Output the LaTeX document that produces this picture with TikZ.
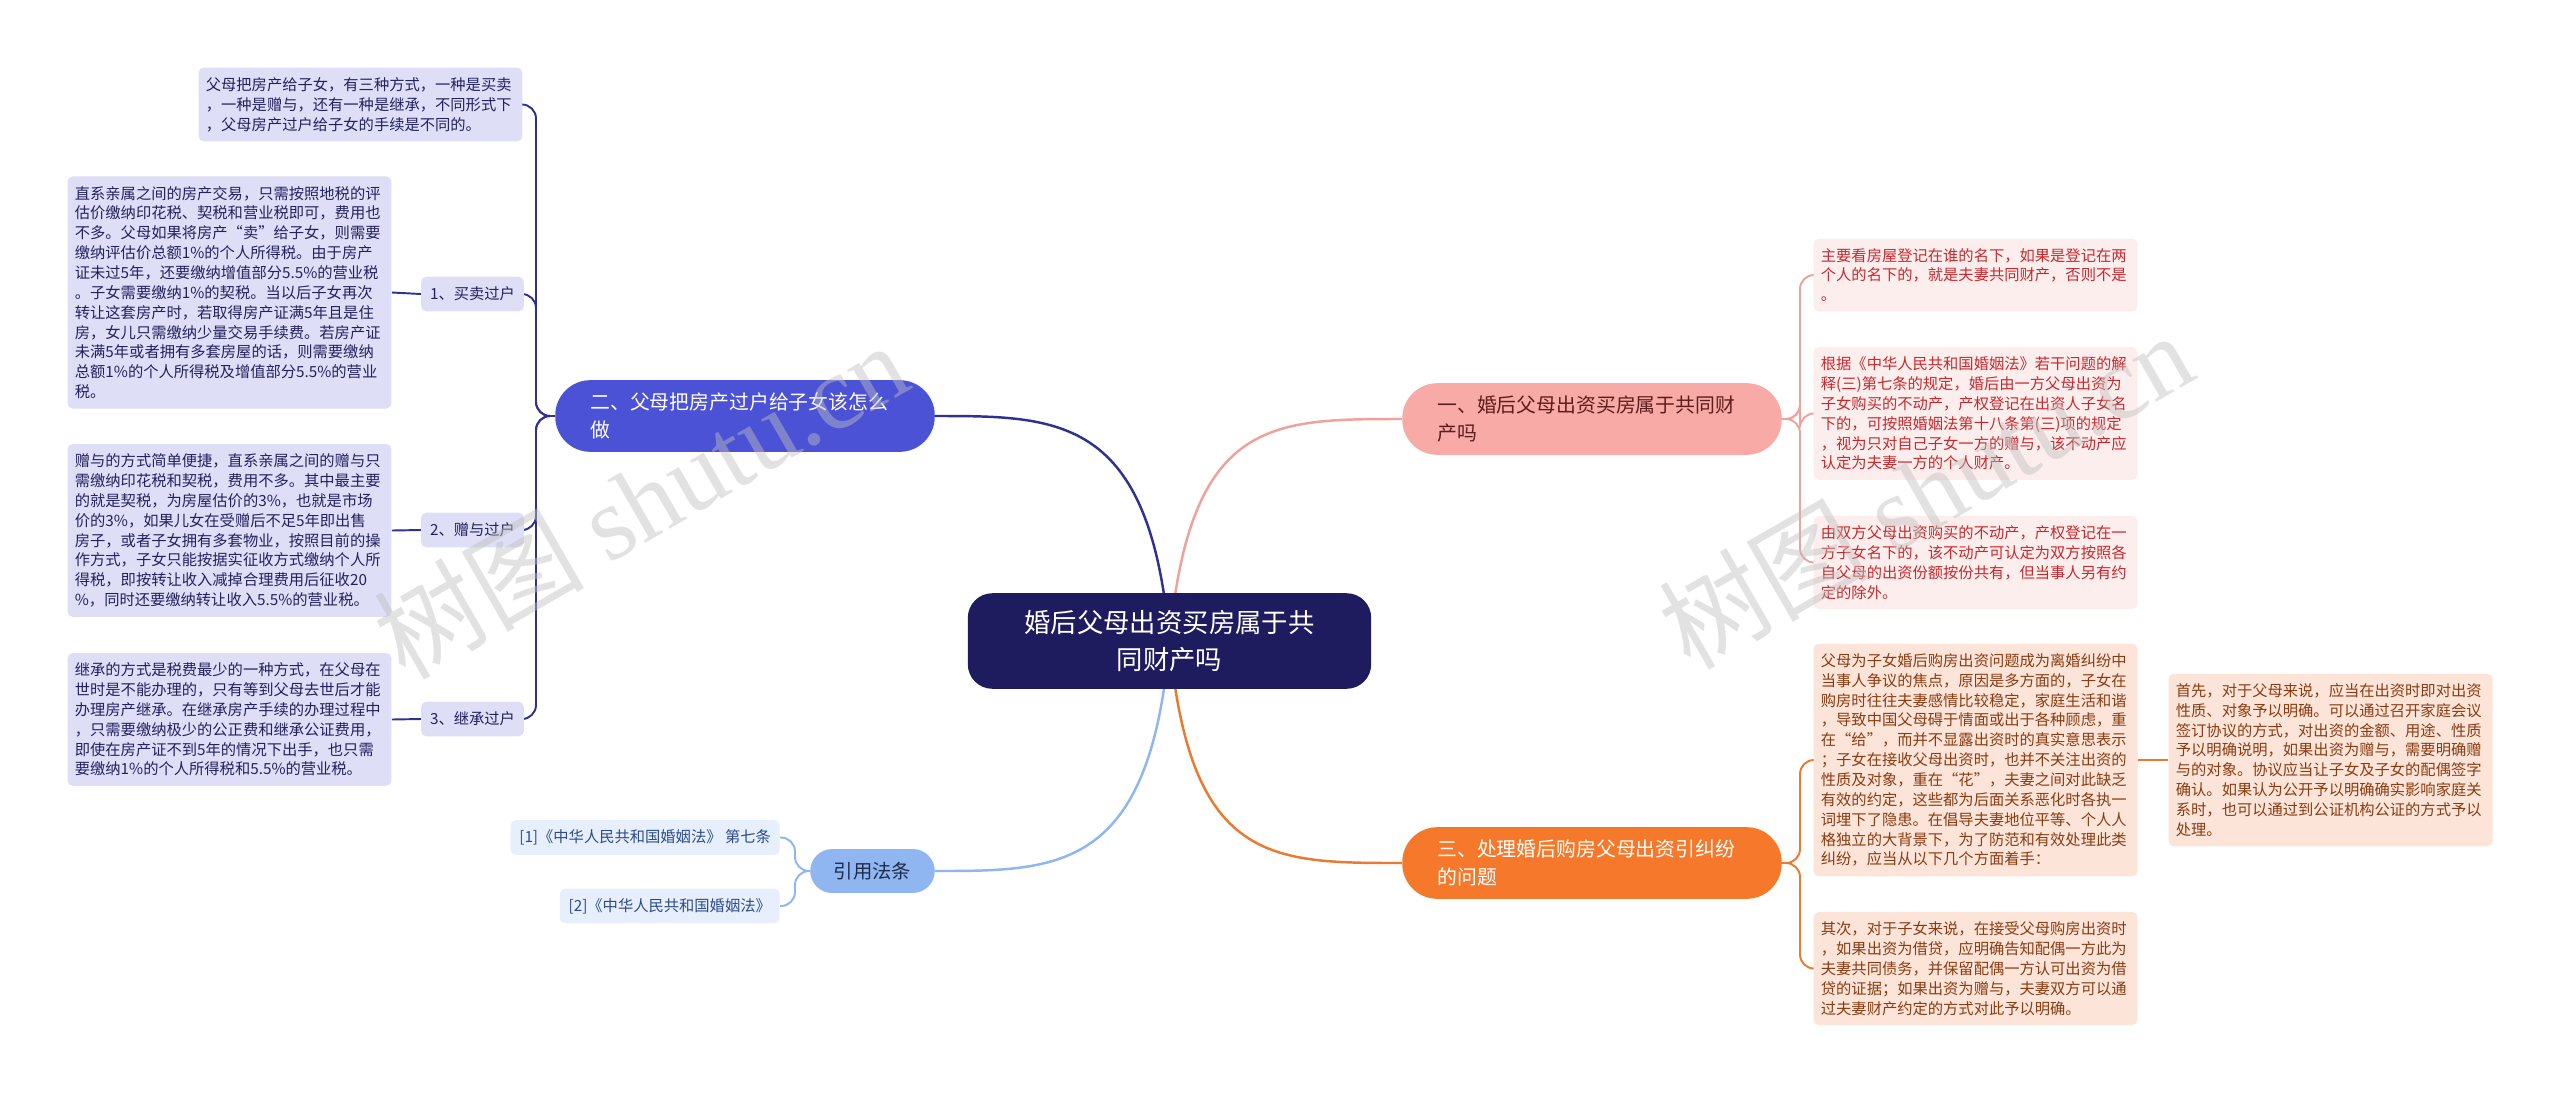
\documentclass[tikz,border=0pt]{standalone}
\usepackage{fontspec}
\setmainfont{Noto Sans CJK SC}
\newfontfamily\wmfont{Liberation Serif}
\usetikzlibrary{backgrounds}
\definecolor{rootc}{HTML}{1E1B5E}
\definecolor{blueA}{HTML}{4B52D6}
\definecolor{lav}{HTML}{DEDFF7}
\definecolor{lavtxt}{HTML}{23215E}
\definecolor{linkL}{HTML}{2F3192}
\definecolor{pinkA}{HTML}{F8AAA6}
\definecolor{pinktxt}{HTML}{5E1D1D}
\definecolor{pinkbg}{HTML}{FDEEEE}
\definecolor{redtxt}{HTML}{C8282C}
\definecolor{linkP}{HTML}{F0A19C}
\definecolor{orA}{HTML}{F6792B}
\definecolor{orbg}{HTML}{FCE5D8}
\definecolor{ortxt}{HTML}{8A3B12}
\definecolor{linkO}{HTML}{E97A2F}
\definecolor{skyA}{HTML}{8FB6F1}
\definecolor{skytxt}{HTML}{1F2B4B}
\definecolor{skybg}{HTML}{E8EFFC}
\definecolor{reftxt}{HTML}{2B4B8C}
\tikzset{
  txt/.style={rounded corners=3pt,inner xsep=4.2pt,inner ysep=5.5pt,text width=176pt,align=left,font=\fontsize{8.7}{11.3}\selectfont},
  lavbox/.style={txt,fill=lav,text=lavtxt},
  pinkbox/.style={txt,fill=pinkbg,text=redtxt},
  orbox/.style={txt,fill=orbg,text=ortxt},
  subbox/.style={fill=lav,text=lavtxt,rounded corners=3pt,minimum width=58.4pt,minimum height=19.8pt,inner sep=2pt,font=\fontsize{8.7}{11.3}\selectfont},
  refbox/.style={fill=skybg,text=reftxt,rounded corners=3pt,minimum height=19.8pt,inner xsep=5pt,inner ysep=2pt,font=\fontsize{8.7}{11}\selectfont},
  pill/.style={rounded corners=20pt,text width=176pt,inner xsep=20pt,inner ysep=4pt,minimum height=40.8pt,align=left,font=\fontsize{11.3}{16}\selectfont},
  rootbox/.style={fill=rootc,text=white,rounded corners=14pt,minimum width=229.6pt,minimum height=54.4pt,align=center,font=\fontsize{15}{21}\selectfont},
  con/.style={line width=1.1pt,rounded corners=8pt},
  trunk/.style={line width=1.4pt},
  wmark/.style={rotate=30,text=gray!50,text opacity=0.45,font=\fontsize{60}{66}\selectfont}
}
\begin{document}
\begin{tikzpicture}[x=0.02cm,y=-0.02cm]
\begin{scope}[on background layer]
\fill[white] (0,0) rectangle (2560,1093);
\end{scope}
\useasboundingbox (0,0) rectangle (2560,1093);
\coordinate (bl) at (536,0);
\coordinate (br) at (1800,0);
\coordinate (bq) at (795,0);

\node[rootbox] (root) at (1169.5,641) {婚后父母出资买房属于共\\同财产吗};
\node[pill,fill=blueA,text=white] (p2) at (745,416) {二、父母把房产过户给子女该怎么\\做};
\node[pill,fill=pinkA,text=pinktxt] (p1) at (1592,419) {一、婚后父母出资买房属于共同财\\产吗};
\node[pill,fill=orA,text=white] (p3) at (1592,863) {三、处理婚后购房父母出资引纠纷\\的问题};
\node[fill=skyA,text=skytxt,rounded corners=12.5pt,minimum width=70.9pt,minimum height=25pt,font=\fontsize{11}{13}\selectfont] (p4) at (872.5,871) {引用法条};

\node[lavbox] (t1) at (360.5,104.5) {父母把房产给子女，有三种方式，一种是买卖\\，一种是赠与，还有一种是继承，不同形式下\\，父母房产过户给子女的手续是不同的。};
\node[subbox] (s1) at (472.5,294) {1、买卖过户};
\node[subbox] (s2) at (472.5,530) {2、赠与过户};
\node[subbox] (s3) at (472.5,719) {3、继承过户};
\node[lavbox] (t2) at (229.5,292.5) {直系亲属之间的房产交易，只需按照地税的评\\估价缴纳印花税、契税和营业税即可，费用也\\不多。父母如果将房产“卖”给子女，则需要\\缴纳评估价总额1\%的个人所得税。由于房产\\证未过5年，还要缴纳增值部分5.5\%的营业税\\。子女需要缴纳1\%的契税。当以后子女再次\\转让这套房产时，若取得房产证满5年且是住\\房，女儿只需缴纳少量交易手续费。若房产证\\未满5年或者拥有多套房屋的话，则需要缴纳\\总额1\%的个人所得税及增值部分5.5\%的营业\\税。};
\node[lavbox] (t3) at (229.5,530.5) {赠与的方式简单便捷，直系亲属之间的赠与只\\需缴纳印花税和契税，费用不多。其中最主要\\的就是契税，为房屋估价的3\%，也就是市场\\价的3\%，如果儿女在受赠后不足5年即出售\\房子，或者子女拥有多套物业，按照目前的操\\作方式，子女只能按据实征收方式缴纳个人所\\得税，即按转让收入减掉合理费用后征收20\\\%，同时还要缴纳转让收入5.5\%的营业税。};
\node[lavbox] (t4) at (229.5,719.5) {继承的方式是税费最少的一种方式，在父母在\\世时是不能办理的，只有等到父母去世后才能\\办理房产继承。在继承房产手续的办理过程中\\，只需要缴纳极少的公正费和继承公证费用，\\即使在房产证不到5年的情况下出手，也只需\\要缴纳1\%的个人所得税和5.5\%的营业税。};

\node[pinkbox] (ta) at (1975.5,275) {主要看房屋登记在谁的名下，如果是登记在两\\个人的名下的，就是夫妻共同财产，否则不是\\。};
\node[pinkbox] (tb) at (1975.5,413.5) {根据《中华人民共和国婚姻法》若干问题的解\\释(三)第七条的规定，婚后由一方父母出资为\\子女购买的不动产，产权登记在出资人子女名\\下的，可按照婚姻法第十八条第(三)项的规定\\，视为只对自己子女一方的赠与，该不动产应\\认定为夫妻一方的个人财产。};
\node[pinkbox] (tc) at (1975.5,562.5) {由双方父母出资购买的不动产，产权登记在一\\方子女名下的，该不动产可认定为双方按照各\\自父母的出资份额按份共有，但当事人另有约\\定的除外。};

\node[orbox] (td) at (1975.5,760) {父母为子女婚后购房出资问题成为离婚纠纷中\\当事人争议的焦点，原因是多方面的，子女在\\购房时往往夫妻感情比较稳定，家庭生活和谐\\，导致中国父母碍于情面或出于各种顾虑，重\\在“给”，而并不显露出资时的真实意思表示\\；子女在接收父母出资时，也并不关注出资的\\性质及对象，重在“花”，夫妻之间对此缺乏\\有效的约定，这些都为后面关系恶化时各执一\\词埋下了隐患。在倡导夫妻地位平等、个人人\\格独立的大背景下，为了防范和有效处理此类\\纠纷，应当从以下几个方面着手：};
\node[orbox] (te) at (1975.5,968.5) {其次，对于子女来说，在接受父母购房出资时\\，如果出资为借贷，应明确告知配偶一方此为\\夫妻共同债务，并保留配偶一方认可出资为借\\贷的证据；如果出资为赠与，夫妻双方可以通\\过夫妻财产约定的方式对此予以明确。};
\node[orbox] (tf) at (2330.5,760) {首先，对于父母来说，应当在出资时即对出资\\性质、对象予以明确。可以通过召开家庭会议\\签订协议的方式，对出资的金额、用途、性质\\予以明确说明，如果出资为赠与，需要明确赠\\与的对象。协议应当让子女及子女的配偶签字\\确认。如果认为公开予以明确确实影响家庭关\\系时，也可以通过到公证机构公证的方式予以\\处理。};

\node[refbox,anchor=east] (q1) at (780,837.5) {[1]《中华人民共和国婚姻法》 第七条};
\node[refbox,anchor=east] (q2) at (780,906) {[2]《中华人民共和国婚姻法》};

\begin{scope}[on background layer]
\draw[trunk,linkL] (p2.east) .. controls (1060,416) and (1150,416) .. (root.center);
\draw[trunk,skyA] (p4.east) .. controls (1060,871) and (1150,871) .. (root.center);
\draw[trunk,linkP] (root.center) .. controls (1190,419) and (1270,419) .. (p1.west);
\draw[trunk,linkO] (root.center) .. controls (1190,863) and (1270,863) .. (p3.west);
\draw[con,linkL] (p2.west) -- (p2.west -| bl) |- (t1.east);
\draw[con,linkL] (p2.west) -- (p2.west -| bl) |- (s1.east);
\draw[con,linkL] (p2.west) -- (p2.west -| bl) |- (s2.east);
\draw[con,linkL] (p2.west) -- (p2.west -| bl) |- (s3.east);
\draw[con,linkL] (s1.west) -- (t2.east);
\draw[con,linkL] (s2.west) -- (t3.east);
\draw[con,linkL] (s3.west) -- (t4.east);
\draw[con,linkP] (p1.east) -- (p1.east -| br) |- (ta.west);
\draw[con,linkP] (p1.east) -- (p1.east -| br) |- (tb.west);
\draw[con,linkP] (p1.east) -- (p1.east -| br) |- (tc.west);
\draw[con,linkO] (p3.east) -- (p3.east -| br) |- (td.west);
\draw[con,linkO] (p3.east) -- (p3.east -| br) |- (te.west);
\draw[con,linkO] (td.east) -- (tf.west);
\draw[con,skyA] (p4.west) -- (p4.west -| bq) |- (q1.east);
\draw[con,skyA] (p4.west) -- (p4.west -| bq) |- (q2.east);
\end{scope}

\node[wmark] (wm1) at (640,500) {树图 {\wmfont shutu.cn}};
\node[wmark] (wm2) at (1925,490) {树图 {\wmfont shutu.cn}};
\end{tikzpicture}
\end{document}
